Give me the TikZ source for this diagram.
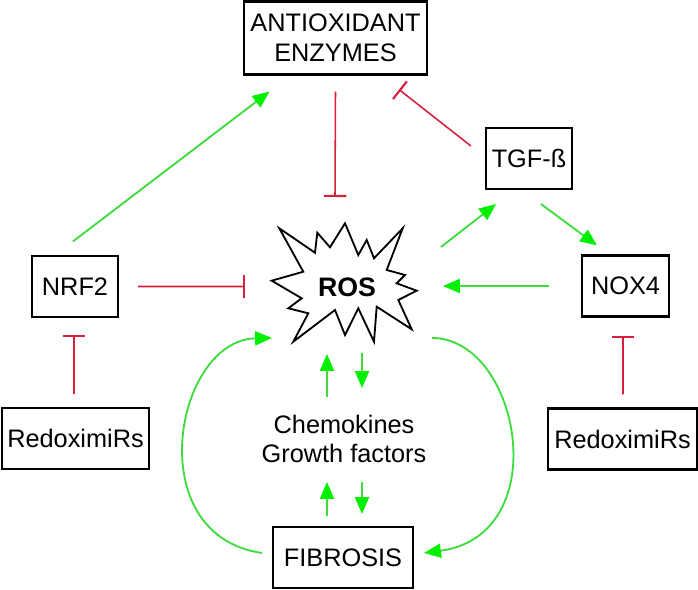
\documentclass[tikz,border=0pt]{standalone}
\usepackage{fontspec}
\setmainfont{Liberation Sans}
\usetikzlibrary{arrows.meta, calc}
\definecolor{actcol}{RGB}{60, 220, 60}
\definecolor{tipcol}{RGB}{0, 240, 0}
\definecolor{inhcol}{RGB}{215, 30, 60}
\tikzset{
  txt/.style={font=\fontsize{18}{21}\selectfont},
  box/.style={txt, draw, line width=1.5pt, minimum height=1.525cm, inner sep=0pt,
              align=center},
  act/.style={-{Triangle[length=12pt, width=10pt, color=tipcol]}, line width=1.3pt, actcol},
  inh/.style={-{Bar[width=16pt, line width=1.5pt]}, line width=1.1pt, inhcol},
}

\begin{document}
\begin{tikzpicture}[x=0.025cm, y=-0.025cm]
  \useasboundingbox (0,0) rectangle (698,590);

  \node[box, minimum width=4.575cm, minimum height=1.825cm] (enz) at (335.5,38) {ANTIOXIDANT\\ENZYMES};
  \node[box, minimum width=2.15cm]  (tgf)  at (529,158.5) {TGF-ß};
  \node[box, minimum width=2.15cm]  (nrf)  at (75,286.5)  {NRF2};
  \node[box, minimum width=2.175cm] (nox)  at (625.5,286) {NOX4};
  \node[box, minimum width=3.675cm] (mirl) at (75.5,438.5) {RedoximiRs};
  \node[box, minimum width=3.725cm] (mirr) at (622.5,439) {RedoximiRs};
  \node[box, minimum width=3.5cm]   (fib)  at (343,557.5) {FIBROSIS};
  \node[txt, font=\fontsize{19}{21}\selectfont\bfseries] (ros) at (347,287) {ROS};
  \node[txt, align=center] (chemo) at (344,439) {Chemokines\\Growth factors};

  % burst round ROS
  \begin{scope}[shift={(ros)}]
    \draw[line width=1.3pt, line join=miter]
      (-67.7,-58.7) -- (-32,-34.3) -- (-29.7,-54.3) -- (-17,-39.7) -- (-2,-63.7)
      -- (11.3,-32) -- (19.7,-47) -- (27,-28.7) -- (55.7,-58.7) -- (39.7,-17)
      -- (58,-12) -- (49.7,-3.7) -- (69.7,3.7) -- (51.3,13) -- (64.7,42.3)
      -- (29.7,19.7) -- (27,54.7) -- (11.3,21.3) -- (-2,48) -- (-12,23)
      -- (-53.7,54.7) -- (-38.7,26.3) -- (-58.7,21.3) -- (-45.3,11.3)
      -- (-75.3,-6.3) -- (-43.7,-15.3) -- cycle;
  \end{scope}

  \draw[act] ($(nrf.north)+(-2,-13.5)$) -- ($(enz.south)+(-66,16)$);
  \draw[inh] ($(enz.south)+(0,16)$) -- ($(ros)+(-12,-90)$);
  \draw[inh] ($(tgf.west)+(-14,-12.5)$) -- ($(enz.south east)+(-29,14)$);
  \draw[act] ($(ros)+(94,-40)$) -- ($(tgf.south)+(-33,14)$);
  \draw[act] ($(tgf.south)+(12,14)$) -- ($(nox.north)+(-28.5,-9)$);
  \draw[act] ($(nox.west)+(-32,0)$) -- ($(ros)+(96,-1)$);
  \draw[inh] ($(nrf.east)+(19,0)$) -- ($(ros)+(-102,-0.5)$);
  \draw[inh] ($(mirl.north)+(-1.5,-13)$) -- ($(nrf.south)+(-1,17)$);
  \draw[inh] ($(mirr.north)+(0.5,-13)$) -- ($(nox.south)+(-2.5,18)$);

  % loop between fibrosis and ROS
  \draw[act] ($(fib.west)+(-10,-4.5)$) .. controls +(-123,-18) and +(-97,2) .. ($(ros)+(-75,51)$);
  \draw[act] ($(ros)+(85,51)$) .. controls +(88,0) and +(132,-18) .. ($(fib.east)+(10,-4.5)$);

  \draw[act] ($(chemo)+(-17,-42)$) -- ($(ros)+(-20,67)$);
  \draw[act] ($(ros)+(15,66)$) -- ($(chemo)+(18,-51)$);
  \draw[act] ($(fib.north)+(-16,-10)$) -- ($(chemo)+(-17,43)$);
  \draw[act] ($(chemo)+(18,43)$) -- ($(fib.north)+(19,-12)$);
\end{tikzpicture}
\end{document}
